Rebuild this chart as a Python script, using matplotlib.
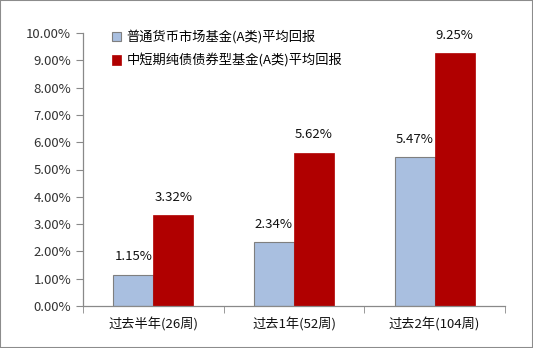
import matplotlib
matplotlib.use("Agg")
import matplotlib.pyplot as plt
from matplotlib.patches import Rectangle
import numpy as np

plt.rcParams['font.family'] = ['Noto Sans CJK SC', 'DejaVu Sans']

categories = ["过去半年(26周)", "过去1年(52周)", "过去2年(104周)"]
series_names = ["普通货币市场基金(A类)平均回报", "中短期纯债债券型基金(A类)平均回报"]
money_market = [1.15, 2.34, 5.47]
short_bond = [3.32, 5.62, 9.25]
yticks = np.arange(0, 10.01, 1.0)

W, H = 533, 348
fig = plt.figure(figsize=(W / 100, H / 100), dpi=100)
ax = fig.add_axes([83 / W, 1 - 306 / H, (505 - 83) / W, (306 - 33) / H])

x = np.arange(len(categories))
bw = 0.285
ax.bar(x - bw / 2, money_market, bw, color="#A9BFE0", edgecolor="#7F7F7F",
       linewidth=0.8, label=series_names[0])
ax.bar(x + bw / 2, short_bond, bw, color="#B00000", edgecolor="#B00000",
       linewidth=0.5, label=series_names[1])

for xi, v in zip(x, money_market):
    ax.annotate(f"{v:.2f}%", (xi - bw / 2, v), xytext=(0, 8), textcoords="offset points",
                ha="center", va="bottom", fontsize=9.5, color="#111111")
for xi, v in zip(x, short_bond):
    ax.annotate(f"{v:.2f}%", (xi + bw / 2, v), xytext=(0, 8), textcoords="offset points",
                ha="center", va="bottom", fontsize=9.5, color="#111111")

ax.set_xlim(-0.5, len(categories) - 0.5)
ax.set_ylim(0, 10)
ax.set_yticks(yticks)
ax.set_yticklabels([f"{t:.2f}%" for t in yticks], fontsize=9.5, color="#333333")
ax.set_xticks(x)
ax.set_xticklabels(categories, fontsize=9.5, color="#111111")
ax.tick_params(axis="x", length=0, pad=8)
ax.tick_params(axis="y", length=5, color="#898989", direction="out")
# category separators below the axis
ax.set_xticks(np.arange(-0.5, len(categories), 1.0), minor=True)
ax.tick_params(axis="x", which="minor", length=5, color="#898989", direction="out")

for s in ["top", "right"]:
    ax.spines[s].set_visible(False)
for s in ["left", "bottom"]:
    ax.spines[s].set_color("#898989")
    ax.spines[s].set_linewidth(0.9)

ax.legend(loc="upper left", bbox_to_anchor=(0.04, 1.055), frameon=False, fontsize=9.5,
          handlelength=0.7, handleheight=0.7, handletextpad=0.4, labelspacing=0.75)

fig.patches.append(Rectangle((0, 0), 1, 1, transform=fig.transFigure, fill=False,
                             edgecolor="#8C8C8C", linewidth=1.5))

fig.savefig("out.png", dpi=100)
